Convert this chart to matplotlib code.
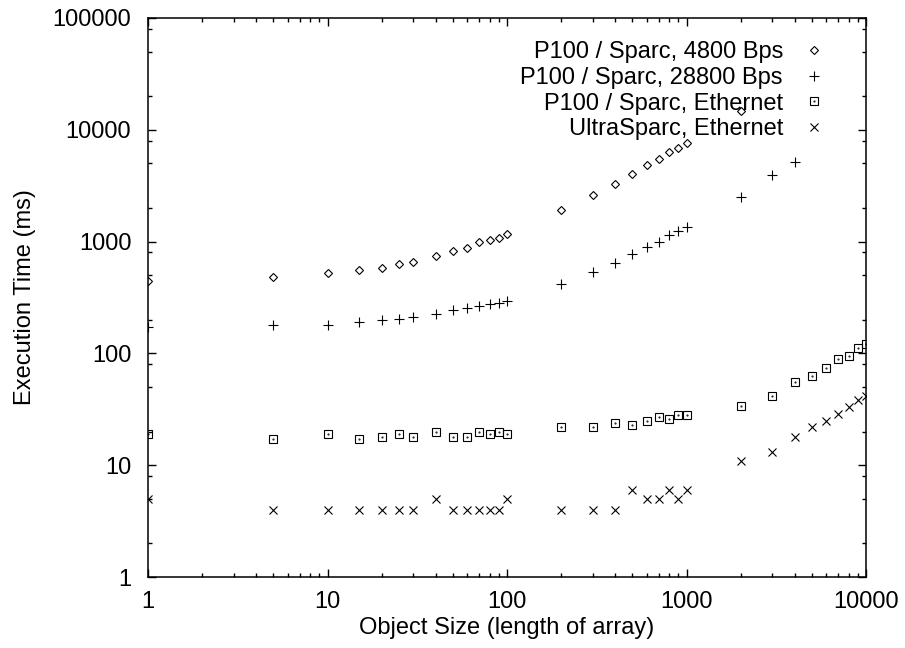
import numpy as np
import matplotlib
matplotlib.use("Agg")
import matplotlib.pyplot as plt
from matplotlib.ticker import LogLocator, NullFormatter, FixedFormatter, FixedLocator

plt.rcParams['font.family'] = ['Liberation Sans', 'DejaVu Sans']

# object sizes (length of array)
sizes = [1, 5, 10, 15, 20, 25, 30, 40, 50, 60, 70, 80, 90, 100,
         200, 300, 400, 500, 600, 700, 800, 900, 1000,
         2000, 3000, 4000, 5000, 6000, 7000, 8000, 9000, 10000]

# execution times (ms)
p100_4800 = [444, 478, 523, 557, 577, 630, 660, 745, 830, 870, 990, 1040, 1080, 1170,
             1900, 2600, 3300, 4000, 4800, 5500, 6300, 6900, 7600, 14700]
p100_28800 = [172, 180, 180, 190, 200, 205, 211, 225, 244, 255, 265, 277, 283, 295,
              418, 535, 645, 775, 895, 1000, 1150, 1240, 1350, 2530, 3980, 5100]
p100_eth = [19, 17, 19, 17, 18, 19, 18, 20, 18, 18, 20, 19, 20, 19,
            22, 22, 24, 23, 25, 27, 26, 28, 28, 34, 42, 56, 63, 74, 89, 95, 112, 121]
ultra_eth = [5, 4, 4, 4, 4, 4, 4, 5, 4, 4, 4, 4, 4, 5,
             4, 4, 4, 6, 5, 5, 6, 5, 6, 11, 13, 18, 22, 25, 29, 33, 38, 42]

labels = ["P100 / Sparc, 4800 Bps", "P100 / Sparc, 28800 Bps",
          "P100 / Sparc, Ethernet", "UltraSparc, Ethernet"]

FS = 17

fig = plt.figure(figsize=(9.05, 6.48), dpi=100)
ax = fig.add_axes([148 / 905, 1 - 577 / 648, (866 - 148) / 905, (577 - 18) / 648])

mk = dict(linestyle='none', color='black', mfc='none', mew=0.8)
h1, = ax.plot(sizes[:len(p100_4800)], p100_4800, marker='D', ms=4.5, **mk)
h2, = ax.plot(sizes[:len(p100_28800)], p100_28800, marker='+', ms=7.5, **mk)
h3, = ax.plot(sizes, p100_eth, marker='s', ms=6, **mk)
h3d, = ax.plot(sizes, p100_eth, marker='.', ms=1, linestyle='none', color='black')
h4, = ax.plot(sizes, ultra_eth, marker='x', ms=6, **mk)

ax.set_xscale('log')
ax.set_yscale('log')
ax.set_xlim(1, 10000)
ax.set_ylim(1, 100000)

xt = [1, 10, 100, 1000, 10000]
yt = [1, 10, 100, 1000, 10000, 100000]
ax.xaxis.set_major_locator(FixedLocator(xt))
ax.xaxis.set_major_formatter(FixedFormatter([str(v) for v in xt]))
ax.yaxis.set_major_locator(FixedLocator(yt))
ax.yaxis.set_major_formatter(FixedFormatter([str(v) for v in yt]))
ax.xaxis.set_minor_locator(LogLocator(base=10, subs=np.arange(2, 10)))
ax.yaxis.set_minor_locator(LogLocator(base=10, subs=[2, 5, 8]))
ax.xaxis.set_minor_formatter(NullFormatter())
ax.yaxis.set_minor_formatter(NullFormatter())

ax.tick_params(which='both', direction='in', top=True, right=True,
               labelsize=FS, width=1.0)
ax.tick_params(which='major', length=6)
ax.tick_params(which='minor', length=3)
ax.tick_params(axis='x', which='major', pad=10)
ax.tick_params(axis='y', which='major', pad=12)
for s in ax.spines.values():
    s.set_linewidth(1.1)

ax.set_xlabel("Object Size (length of array)", fontsize=FS, labelpad=3)
ax.set_ylabel("Execution Time (ms)", fontsize=FS, labelpad=12)

ax.legend([h1, h2, (h3, h3d), h4], labels, loc='upper right', frameon=False,
          markerfirst=False, fontsize=FS, handlelength=1.2, handletextpad=0.7,
          labelspacing=0.15, borderaxespad=0.0, bbox_to_anchor=(0.96, 0.975))

fig.savefig("out.png", dpi=100)
